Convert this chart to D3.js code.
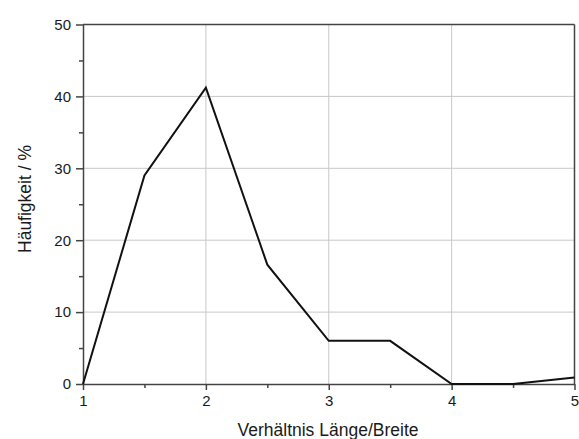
<!DOCTYPE html>
<html>
<head>
<meta charset="utf-8">
<script src="https://cdn.jsdelivr.net/npm/d3@7"></script>
<style>
  body { margin: 0; background: #fff; }
  text { font-family: "Liberation Sans", Arial, sans-serif; fill: #1a1a1a; }
</style>
</head>
<body>
<div id="chart"></div>
<script>
// data
var ratio = [1, 1.5, 2, 2.5, 3, 3.5, 4, 4.5, 5];
var frequency = [0, 29, 41.2, 16.6, 6, 6, 0, 0, 0.9];
var xTicks = [1, 2, 3, 4, 5];
var yTicks = [0, 10, 20, 30, 40, 50];

var margin = {top: 24.5, right: 4.5, bottom: 55, left: 83},
    width = 579 - margin.left - margin.right,
    height = 439 - margin.top - margin.bottom;

var svg = d3.select("#chart").append("svg")
    .attr("width", 579)
    .attr("height", 439);

var g = svg.append("g")
    .attr("transform", "translate(" + margin.left + "," + margin.top + ")");

var x = d3.scaleLinear().domain([1, 5]).range([0, width]);
var y = d3.scaleLinear().domain([0, 50]).range([height, 0]);

// grid
g.selectAll(".vgrid")
  .data(xTicks.slice(1, -1))
  .enter().append("line")
    .attr("x1", function (d) { return x(d); })
    .attr("x2", function (d) { return x(d); })
    .attr("y1", 0).attr("y2", height)
    .attr("stroke", "#c8c8c8").attr("stroke-width", 1);

g.selectAll(".hgrid")
  .data(yTicks.slice(1, -1))
  .enter().append("line")
    .attr("y1", function (d) { return y(d); })
    .attr("y2", function (d) { return y(d); })
    .attr("x1", 0).attr("x2", width)
    .attr("stroke", "#c8c8c8").attr("stroke-width", 1);

// frame top / right
g.append("line").attr("x1", 0).attr("x2", width).attr("y1", 0).attr("y2", 0)
  .attr("stroke", "#444").attr("stroke-width", 1.5);
g.append("line").attr("x1", width).attr("x2", width).attr("y1", 0).attr("y2", height)
  .attr("stroke", "#444").attr("stroke-width", 1.5);

// minor ticks
var xMinor = g.append("g")
  .attr("transform", "translate(0," + height + ")")
  .call(d3.axisBottom(x).tickValues([1.5, 2.5, 3.5, 4.5]).tickSize(4).tickFormat(""));
var yMinor = g.append("g")
  .call(d3.axisLeft(y).tickValues([5, 15, 25, 35, 45]).tickSize(4).tickFormat(""));

var xAxis = g.append("g")
  .attr("transform", "translate(0," + height + ")")
  .call(d3.axisBottom(x).tickValues(xTicks).tickSize(6).tickSizeOuter(0).tickPadding(5).tickFormat(d3.format("d")));
var yAxis = g.append("g")
  .call(d3.axisLeft(y).tickValues(yTicks).tickSize(7).tickSizeOuter(0).tickPadding(5));

[xMinor, yMinor, xAxis, yAxis].forEach(function (a) {
  a.selectAll("path, line").attr("stroke", "#444").attr("stroke-width", 1.5);
  a.selectAll("text").style("font-size", "15px").attr("fill", "#1a1a1a")
    .style("font-family", "'Liberation Sans', Arial, sans-serif");
});
xMinor.select("path").remove();
yMinor.select("path").remove();

// line
var line = d3.line()
  .x(function (d, i) { return x(ratio[i]); })
  .y(function (d) { return y(d); });

g.append("path")
  .datum(frequency)
  .attr("d", line)
  .attr("fill", "none")
  .attr("stroke", "#111")
  .attr("stroke-width", 2);

// axis titles
svg.append("text")
  .attr("x", 328)
  .attr("y", 436)
  .attr("text-anchor", "middle")
  .style("font-size", "17.5px")
  .text("Verhältnis Länge/Breite");

svg.append("text")
  .attr("transform", "translate(31,199) rotate(-90)")
  .attr("text-anchor", "middle")
  .style("font-size", "17.5px")
  .text("Häufigkeit / %");
</script>
</body>
</html>
